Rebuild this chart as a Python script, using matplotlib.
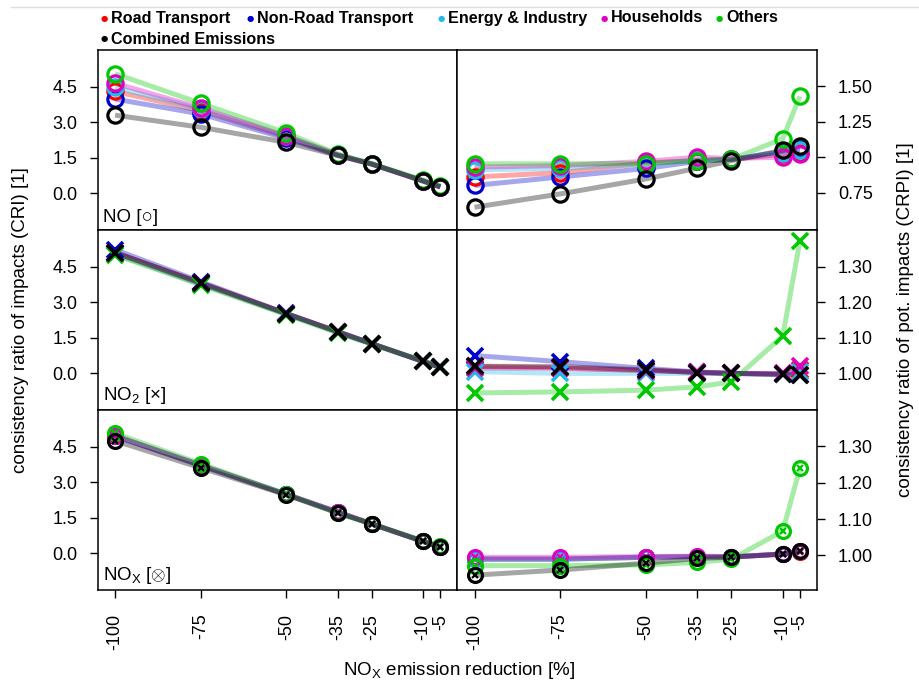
import matplotlib.pyplot as plt
from matplotlib.lines import Line2D

plt.rcParams['font.family'] = ['Liberation Sans', 'DejaVu Sans']
plt.rcParams['mathtext.fontset'] = 'custom'
plt.rcParams['mathtext.rm'] = 'Liberation Sans'
plt.rcParams['mathtext.it'] = 'Liberation Sans:italic'

# NOx emission reduction steps [%]
reduction = [-100, -75, -50, -35, -25, -10, -5]
xtick_labels = ['-100', '-75', '-50', '-35', '-25', '-10', '-5']

sectors = ['Road Transport', 'Non-Road Transport', 'Energy & Industry',
           'Households', 'Others', 'Combined Emissions']
colors = ['#ff0000', '#0000cd', '#22bbe8', '#e000c0', '#00c800', '#000000']

# consistency ratio of impacts (CRI), rows follow `sectors`
cri_no = [
    [4.30, 3.49, 2.38, 1.62, 1.24, 0.52, 0.27],
    [3.98, 3.35, 2.32, 1.60, 1.23, 0.52, 0.27],
    [4.47, 3.55, 2.40, 1.63, 1.24, 0.52, 0.27],
    [4.65, 3.60, 2.42, 1.63, 1.24, 0.51, 0.26],
    [5.05, 3.80, 2.55, 1.66, 1.25, 0.56, 0.32],
    [3.30, 2.79, 2.15, 1.60, 1.23, 0.52, 0.28],
]
cri_no2 = [
    [5.10, 3.81, 2.52, 1.76, 1.25, 0.50, 0.25],
    [5.22, 3.87, 2.53, 1.76, 1.25, 0.50, 0.25],
    [5.03, 3.75, 2.50, 1.75, 1.25, 0.50, 0.25],
    [5.08, 3.80, 2.52, 1.76, 1.25, 0.50, 0.26],
    [5.00, 3.74, 2.48, 1.70, 1.23, 0.53, 0.28],
    [5.10, 3.82, 2.52, 1.75, 1.25, 0.50, 0.25],
]
cri_nox = [
    [4.95, 3.71, 2.49, 1.74, 1.24, 0.50, 0.25],
    [4.95, 3.71, 2.49, 1.74, 1.24, 0.50, 0.25],
    [4.95, 3.71, 2.49, 1.74, 1.24, 0.50, 0.25],
    [4.97, 3.73, 2.49, 1.75, 1.24, 0.50, 0.25],
    [5.07, 3.78, 2.50, 1.70, 1.24, 0.53, 0.31],
    [4.75, 3.61, 2.47, 1.70, 1.24, 0.50, 0.25],
]

# consistency ratio of potential impacts (CRPI)
crpi_no = [
    [0.860, 0.890, 0.960, 0.975, 0.985, 1.020, 1.030],
    [0.800, 0.860, 0.920, 0.970, 0.985, 1.040, 1.060],
    [0.910, 0.920, 0.950, 0.980, 0.985, 1.030, 1.050],
    [0.930, 0.940, 0.970, 1.000, 0.990, 1.000, 1.025],
    [0.953, 0.953, 0.955, 0.975, 0.985, 1.130, 1.430],
    [0.646, 0.740, 0.846, 0.922, 0.975, 1.047, 1.082],
]
crpi_no2 = [
    [1.020, 1.015, 1.008, 1.003, 1.000, 0.998, 1.010],
    [1.050, 1.033, 1.014, 1.004, 1.000, 0.997, 0.995],
    [1.005, 1.000, 1.000, 1.000, 1.000, 0.998, 1.005],
    [1.015, 1.015, 1.008, 1.004, 1.000, 1.000, 1.020],
    [0.945, 0.948, 0.953, 0.962, 0.976, 1.105, 1.371],
    [1.020, 1.019, 1.010, 1.002, 1.000, 0.997, 0.995],
]
crpi_nox = [
    [0.990, 0.990, 0.995, 0.997, 0.996, 1.004, 1.010],
    [0.990, 0.990, 0.995, 0.997, 0.996, 1.004, 1.012],
    [0.990, 0.990, 0.995, 0.997, 0.996, 1.004, 1.012],
    [0.995, 0.995, 0.997, 0.998, 0.997, 1.003, 1.012],
    [0.972, 0.972, 0.974, 0.981, 0.990, 1.067, 1.240],
    [0.946, 0.960, 0.979, 0.992, 0.995, 1.004, 1.012],
]

left_ticks = [0.0, 1.5, 3.0, 4.5]
right_ticks = [
    [0.75, 1.00, 1.25, 1.50],
    [1.00, 1.10, 1.20, 1.30],
    [1.00, 1.10, 1.20, 1.30],
]
right_ylims = [(0.485, 1.757), (0.897, 1.403), (0.905, 1.400)]
panel_labels = ['NO [\u25cb]', 'NO$_2$ [\u00d7]', 'NO$_\\mathrm{X}$ [$\\otimes$]']
markers = ['o', 'x', 'ox']

fig, axes = plt.subplots(3, 2, figsize=(9.19, 6.88), dpi=100)
fig.subplots_adjust(left=0.1066, right=0.889, top=0.9273, bottom=0.1424,
                    hspace=0, wspace=0)


def draw(ax, data, mk):
    for vals, c in zip(data, colors):
        ax.plot(reduction, vals, color=c, alpha=0.35, lw=3.6,
                solid_capstyle='butt', zorder=2)
    for vals, c in zip(data, colors):
        if mk == 'o':
            ax.plot(reduction, vals, 'o', ms=11, mfc='none', mec=c, mew=2.3, zorder=3)
        elif mk == 'x':
            ax.plot(reduction, vals, 'x', ms=11, mec=c, mew=2.6, zorder=3)
        else:
            ax.plot(reduction, vals, 'o', ms=10, mfc='none', mec=c, mew=2.3, zorder=3)
            ax.plot(reduction, vals, 'x', ms=5, mec=c, mew=1.6, zorder=3)


rows = [(cri_no, crpi_no), (cri_no2, crpi_no2), (cri_nox, crpi_nox)]
for r, (cri, crpi) in enumerate(rows):
    axl, axr = axes[r]
    draw(axl, cri, markers[r])
    draw(axr, crpi, markers[r])

    axl.set_ylim(-1.55, 6.05)
    axl.set_yticks(left_ticks)
    axl.set_yticklabels(['%.1f' % t for t in left_ticks])
    axr.set_ylim(*right_ylims[r])
    axr.set_yticks(right_ticks[r])
    axr.set_yticklabels(['%.2f' % t for t in right_ticks[r]])
    axr.yaxis.tick_right()

    axl.text(0.014, 0.025, panel_labels[r], transform=axl.transAxes,
             fontsize=13.5, ha='left', va='bottom')

    for ax in (axl, axr):
        ax.set_xlim(-105, 0)
        ax.set_xticks(reduction)
        for s in ax.spines.values():
            s.set_linewidth(1.1)
        ax.tick_params(direction='out', length=6, width=1, pad=9, labelsize=13)
        if r < 2:
            ax.tick_params(axis='x', bottom=False, labelbottom=False)
        else:
            ax.tick_params(axis='x', pad=11)
            ax.set_xticklabels(xtick_labels, rotation=90)

fig.text(0.022, 0.535, 'consistency ratio of impacts (CRI) [1]', rotation=90,
         ha='center', va='center', fontsize=13.5)
fig.text(0.985, 0.535, 'consistency ratio of pot. impacts (CRPI) [1]', rotation=90,
         ha='center', va='center', fontsize=13.5)
fig.text(0.4995, 0.026, 'NO$_\\mathrm{X}$ emission reduction [%]',
         ha='center', va='center', fontsize=13.5)

# legend at the top
legend_x = [104, 250, 441, 604, 719, 104]
legend_y = [18, 18, 18, 18, 18, 39]
for name, c, lx, ly in zip(sectors, colors, legend_x, legend_y):
    fig.text(lx / 919, 1 - ly / 688, '\u25cf', color=c, fontsize=6,
             ha='center', va='center', family=['DejaVu Sans'])
    fig.text((lx + 7) / 919, 1 - ly / 688, name, fontsize=11.6, fontweight='bold',
             ha='left', va='center')

fig.add_artist(Line2D([0.012, 1.0], [0.99, 0.99], transform=fig.transFigure,
                      color='#dddddd', lw=1))

fig.savefig('out.png', dpi=100)
